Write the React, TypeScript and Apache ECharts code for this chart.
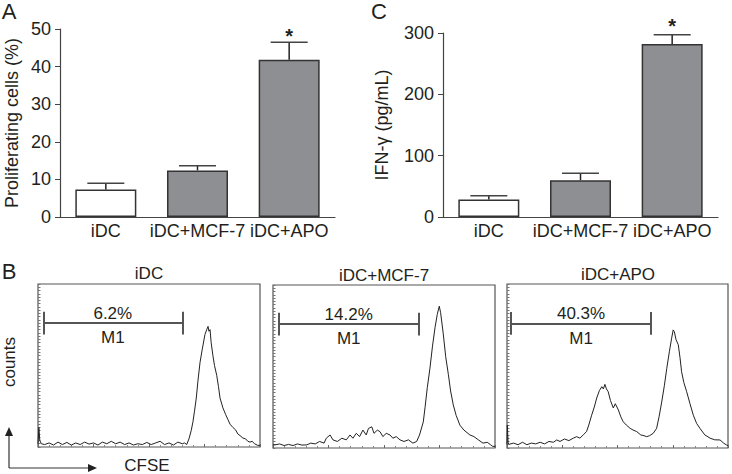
import React, { useEffect, useRef } from "react";
import * as echarts from "echarts";

const categories = ["iDC", "iDC+MCF-7", "iDC+APO"];
const proliferating = [7.3, 12.4, 41.8];
const proliferatingErrTop = [9.0, 13.6, 46.5];
const ifnGamma = [28.5, 60, 282];
const ifnGammaErrTop = [34.5, 71.5, 297];
const significant = [false, false, true];
const barFills = ["#ffffff", "#8e8f92", "#8e8f92"];

const histTitles = ["iDC", "iDC+MCF-7", "iDC+APO"];
const gateLabels = ["6.2%", "14.2%", "40.3%"];
const gateStart = [2.4, 2.7, 1.8];
const gateEnd = [65, 65.5, 65.2];

const histIDC = [
  [0, 2], [0.4, 12], [0.8, 4], [1.5, 2], [3, 1.5], [5, 2.5], [7, 1.2], [9, 3], [11, 1.5], [13, 2.8],
  [15, 1.2], [17, 2.5], [19, 1.5], [21, 3], [23, 1.8], [25, 2.5], [27, 1.2], [29, 3], [31, 2], [33, 3.5],
  [35, 2], [37, 3], [39, 1.5], [41, 2.5], [43, 1.2], [45, 2], [47, 1.5], [49, 2.8], [51, 1.5], [53, 2.5],
  [55, 3.5], [57, 1.5], [59, 2.5], [61, 1.2], [63, 3], [65, 2], [66, 2.5], [67, 1.5], [68, 5], [69, 10],
  [69.8, 15.5], [70.5, 22], [71.3, 30], [72, 40], [73, 52], [74, 60], [75.2, 69], [76, 72], [76.6, 74],
  [77, 71], [77.5, 72], [78, 64], [78.8, 56], [79.5, 50], [80.5, 44], [81.3, 37], [82, 30], [83.3, 24],
  [84.5, 20], [85.5, 17], [86.5, 14], [87.8, 12], [89, 10.5], [90, 8], [91, 7], [92.3, 5.5], [93.5, 5],
  [94.5, 3.5], [95.5, 3], [96.5, 3.5], [97.5, 2], [99, 1], [100, 1],
];
const histMCF7 = [
  [0, 2], [0.9, 1.9], [3, 2.5], [5, 1.5], [7, 2.2], [9, 1.5], [11, 2.5], [13, 1.8], [15.2, 1.9], [17, 3],
  [19, 2.5], [21, 4], [23, 3], [24, 6], [25.7, 8], [27, 5], [29, 4], [31, 6], [33, 5], [34.7, 8], [36, 6],
  [37.5, 9], [39, 7], [40.5, 11], [42, 8], [43, 12], [44.5, 13], [45.5, 9], [47, 11], [48.2, 10], [49.5, 7],
  [51, 9], [52.7, 8], [54, 6], [55.5, 7], [57.2, 5], [59, 4], [61, 5], [63, 3], [64.7, 4], [66, 8],
  [67.7, 16], [68.5, 25], [69.5, 37], [70.7, 49], [71.8, 62], [73, 74], [74, 82], [74.9, 87], [75.5, 83],
  [76.7, 70], [77.8, 56], [79, 45], [80, 35], [81.2, 26.5], [82.5, 20], [84.2, 14], [86, 11], [88.7, 8],
  [90.5, 7], [92.5, 5], [94.6, 3], [96.5, 3.5], [98, 2], [99, 1], [100, 1],
];
const histAPO = [
  [0, 2], [0.15, 14], [0.5, 3], [1, 2.3], [3, 3], [5, 2], [7, 3.5], [9, 2], [11, 3], [13, 2.5], [15, 3.5],
  [17, 2.5], [19, 4], [21, 3.5], [22.5, 4.9], [24, 4], [26, 5.5], [28, 4.5], [30, 6], [31.5, 6.9], [33, 6],
  [34.5, 8], [36, 10], [37, 14], [38.3, 20], [39.5, 25], [40.6, 30.5], [41.8, 35], [42.9, 37.4], [43.6, 36],
  [44.3, 38.8], [45, 36], [45.8, 34.3], [46.8, 29], [48.1, 24.4], [49, 27], [50.4, 23.2], [51.5, 19],
  [52.6, 16], [54, 14], [55.7, 12], [57, 11], [58.7, 10], [60.5, 8], [62, 7.5], [63.2, 6.9], [64.5, 7.5],
  [66.2, 9], [67.7, 12], [68.8, 19], [70, 28], [71.2, 38], [72.3, 48.6], [73.5, 59], [74.5, 67], [75.2, 72],
  [75.7, 71], [76.5, 66], [77.5, 63], [78.3, 55], [79, 46.5], [80, 40], [81.3, 34.3], [82.8, 27], [84.3, 20],
  [85.8, 15], [87.3, 12], [89.5, 8], [91.9, 6], [94, 5], [96.4, 4.9], [98, 3], [99.4, 1.8], [100, 1.5],
];
const histograms = [histIDC, histMCF7, histAPO];

const FONT = "'Liberation Sans', Arial, Helvetica, sans-serif";
const TEXT = "#231f20";
const AXIS = "#444";

function textEl(text: string, x: number, y: number, size: number, align = "center", rotation = 0) {
  return {
    type: "text",
    x,
    y,
    rotation,
    style: {
      text,
      fill: TEXT,
      fontSize: size,
      fontFamily: FONT,
      align,
      verticalAlign: "middle",
      textAlign: align,
      textVerticalAlign: "middle",
    },
  };
}

function barSeries(axisIndex: number, values: number[]) {
  return {
    type: "bar",
    xAxisIndex: axisIndex,
    yAxisIndex: axisIndex,
    barWidth: 61,
    data: values.map((v, i) => ({
      value: v,
      itemStyle: { color: barFills[i], borderColor: "#333", borderWidth: 1.5 },
    })),
    z: 2,
  };
}

function errorSeries(axisIndex: number, values: number[], tops: number[], starOffset: number) {
  return {
    type: "custom",
    xAxisIndex: axisIndex,
    yAxisIndex: axisIndex,
    data: values.map((v, i) => [i, v, tops[i], significant[i] ? 1 : 0]),
    encode: { x: 0, y: [1, 2] },
    z: 3,
    renderItem: (params: any, api: any) => {
      const i = api.value(0);
      const base = api.coord([i, api.value(1)]);
      const top = api.coord([i, api.value(2)]);
      const children: any[] = [
        { type: "line", shape: { x1: base[0], y1: base[1], x2: top[0], y2: top[1] }, style: { stroke: "#222", lineWidth: 1.5 } },
        { type: "line", shape: { x1: top[0] - 18.5, y1: top[1], x2: top[0] + 18.5, y2: top[1] }, style: { stroke: "#444", lineWidth: 1.5 } },
      ];
      if (api.value(3)) {
        children.push({
          type: "text",
          x: top[0],
          y: top[1] - starOffset,
          style: { text: "*", fill: TEXT, fontSize: 20, fontFamily: FONT, fontWeight: "bold", align: "center", verticalAlign: "middle", textAlign: "center", textVerticalAlign: "middle" },
        });
      }
      return { type: "group", children };
    },
  };
}

function catAxis(gridIndex: number) {
  return {
    type: "category",
    gridIndex,
    data: categories,
    axisLine: { lineStyle: { color: AXIS, width: 1.2 } },
    axisTick: { alignWithLabel: true, length: 4, lineStyle: { color: AXIS } },
    axisLabel: { color: TEXT, fontSize: 18, fontFamily: FONT, margin: 5, interval: 0 },
  };
}

function valAxis(gridIndex: number, max: number, interval: number, name: string, nameGap: number) {
  return {
    type: "value",
    gridIndex,
    min: 0,
    max,
    interval,
    name,
    nameLocation: "middle",
    nameGap,
    nameTextStyle: { color: TEXT, fontSize: 18, fontFamily: FONT },
    axisLine: { show: true, lineStyle: { color: AXIS, width: 1.2 } },
    axisTick: { show: true, length: 5, lineStyle: { color: AXIS } },
    axisLabel: { color: TEXT, fontSize: 18, fontFamily: FONT, margin: 9 },
    splitLine: { show: false },
  };
}

const histGrids = [
  { left: 38, top: 284, width: 222, height: 163 },
  { left: 273, top: 285, width: 222, height: 163 },
  { left: 507, top: 284, width: 221, height: 164 },
];

export default function App() {
  const ref = useRef<HTMLDivElement>(null);
  useEffect(() => {
    if (!ref.current) return;
    const chart = echarts.init(ref.current, null, { renderer: "svg" });

    const grids: any[] = [
      { left: 60, top: 29, width: 275, height: 188 },
      { left: 443, top: 33, width: 275, height: 184 },
      ...histGrids.map((g) => ({ ...g, show: true, borderColor: "#555", borderWidth: 1.2, backgroundColor: "transparent" })),
    ];

    const xAxes: any[] = [catAxis(0), catAxis(1)];
    const yAxes: any[] = [
      valAxis(0, 50, 10, "Proliferating cells (%)", 39),
      valAxis(1, 300, 100, "IFN-\u03b3 (pg/mL)", 52),
    ];
    const series: any[] = [
      barSeries(0, proliferating),
      errorSeries(0, proliferating, proliferatingErrTop, 6),
      barSeries(1, ifnGamma),
      errorSeries(1, ifnGamma, ifnGammaErrTop, 9),
    ];

    histograms.forEach((hist, k) => {
      const gi = k + 2;
      xAxes.push({
        type: "value",
        gridIndex: gi,
        min: 0,
        max: 100,
        interval: 25,
        axisLine: { show: false },
        axisTick: { show: true, inside: true, length: 3, lineStyle: { color: "#666" } },
        minorTick: { show: true, splitNumber: 5, length: 2, lineStyle: { color: "#888" } },
        axisLabel: { show: false },
        splitLine: { show: false },
      });
      yAxes.push({
        type: "value",
        gridIndex: gi,
        min: 0,
        max: 100,
        interval: 2,
        axisLine: { show: false },
        axisTick: { show: true, inside: true, length: 2.5, lineStyle: { color: "#777" } },
        axisLabel: { show: false },
        splitLine: { show: false },
      });
      const s = gateStart[k];
      const e = gateEnd[k];
      const mid = (s + e) / 2;
      series.push({
        type: "line",
        xAxisIndex: gi,
        yAxisIndex: gi,
        data: hist,
        showSymbol: false,
        symbol: "none",
        lineStyle: { color: "#222", width: 1 },
        markLine: {
          silent: true,
          symbol: ["none", "none"],
          label: { show: false },
          lineStyle: { color: "#555", width: 2, type: "solid" },
          data: [
            [{ coord: [s, 76] }, { coord: [e, 76] }],
            [{ coord: [s, 69] }, { coord: [s, 83] }],
            [{ coord: [e, 69] }, { coord: [e, 83] }],
          ],
        },
        markPoint: {
          silent: true,
          symbol: "circle",
          symbolSize: 1,
          itemStyle: { color: "rgba(0,0,0,0)" },
          label: { show: true, position: "inside", color: TEXT, fontSize: 17, fontFamily: FONT, formatter: (p: any) => p.name },
          data: [
            { name: gateLabels[k], coord: [mid, 82] },
            { name: "M1", coord: [mid, 67] },
          ],
        },
      });
    });

    const graphics: any[] = [
      textEl("A", 9, 11, 22),
      textEl("C", 379, 11, 22),
      textEl("B", 9, 271, 22),
      textEl(histTitles[0], 149, 273, 17),
      textEl(histTitles[1], 384, 275, 17),
      textEl(histTitles[2], 618, 274, 17),
      textEl("counts", 9, 362, 17, "center", Math.PI / 2),
      textEl("CFSE", 147, 465, 17),
      { type: "line", shape: { x1: 9, y1: 468, x2: 9, y2: 434 }, style: { stroke: "#333", lineWidth: 1.2 } },
      { type: "polygon", shape: { points: [[9, 427], [5, 436], [13, 436]] }, style: { fill: "#222" } },
      { type: "line", shape: { x1: 9, y1: 468, x2: 90, y2: 468 }, style: { stroke: "#333", lineWidth: 1.2 } },
      { type: "polygon", shape: { points: [[97, 468], [88, 464], [88, 472]] }, style: { fill: "#222" } },
    ];

    chart.setOption({
      animation: false,
      backgroundColor: "#ffffff",
      grid: grids,
      xAxis: xAxes,
      yAxis: yAxes,
      series,
      graphic: graphics,
    });
    return () => chart.dispose();
  }, []);
  return <div ref={ref} style={{ position: "fixed", left: 0, top: 0, width: 732, height: 474 }} />;
}
